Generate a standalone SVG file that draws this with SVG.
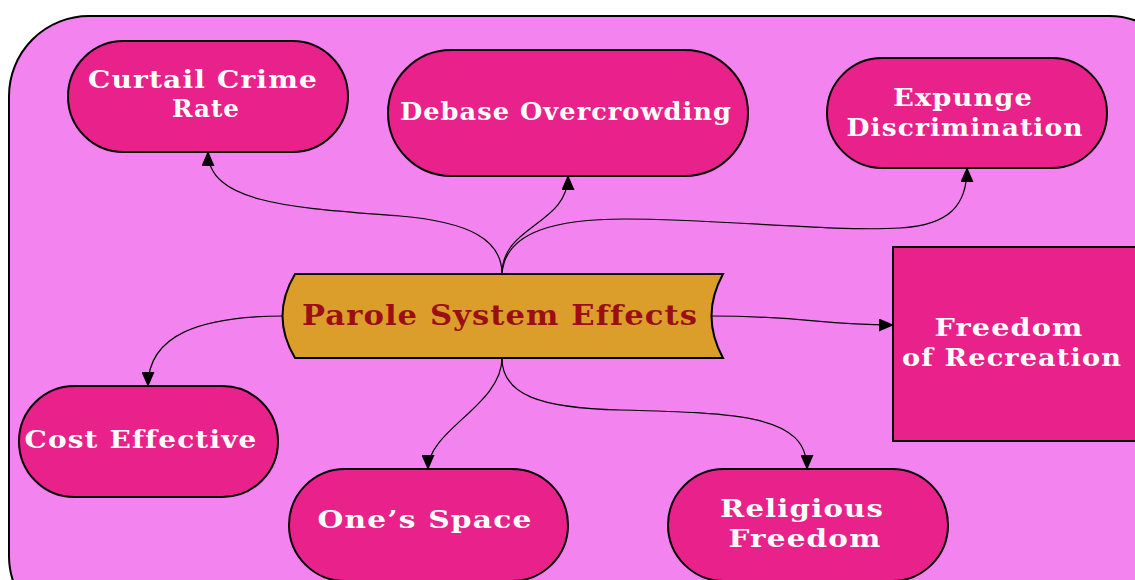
<svg xmlns="http://www.w3.org/2000/svg" width="1135" height="580" viewBox="0 0 1135 580">
<style>
.bg{fill:#f383ef;stroke:#000;stroke-width:2}
.nd{fill:#e9218a;stroke:#000;stroke-width:2}
.ct{fill:#db9e2a;stroke:#000;stroke-width:2}
.t{font-family:"DejaVu Serif",serif;font-weight:bold;font-size:25px;fill:#fff;text-anchor:middle;letter-spacing:1px}
.tc{font-family:"DejaVu Serif",serif;font-weight:bold;font-size:28px;fill:#9c0e16;text-anchor:middle;letter-spacing:1px}
.e{fill:none;stroke:#000;stroke-width:1.2;marker-end:url(#ah)}
</style>
<defs>
<marker id="ah" markerWidth="15" markerHeight="13" refX="14" refY="6.5" orient="auto" markerUnits="userSpaceOnUse">
<path d="M0,0 L15,6.5 L0,13 Z" fill="#000"/>
</marker>
</defs>
<rect width="1135" height="580" fill="#fff"/>
<rect id="container" class="bg" x="9" y="16" width="1180" height="620" rx="80" ry="80"/>
<g id="connectors">
<path class="e" d="M502,274 C502,240 470,222 400,216 C300,208 208,205 208,152"/>
<path class="e" d="M502,274 C502,225 568,225 568,176"/>
<path class="e" d="M502,274 C505,230 560,219 625,219 C720,219 830,232 900,228 C950,225 967,205 967,168"/>
<path class="e" d="M284,316 C200,316 148,335 148,386"/>
<path class="e" d="M502,358 C502,405 428,430 428,469"/>
<path class="e" d="M502,358 C502,395 540,408 620,410 C740,413 807,415 807,469"/>
<path class="e" d="M711,316 C810,316 815,325 893,325"/>
</g>
<g id="center">
<path class="ct" d="M295,274 L723,274 Q700,316 723,358 L295,358 Q270,316 295,274 Z"/>
<text class="tc" x="500" y="325" textLength="396" lengthAdjust="spacingAndGlyphs">Parole System Effects</text>
</g>
<g id="curtail">
<rect class="nd" x="68" y="41" width="280" height="111" rx="55.5"/>
<text class="t" x="203" y="88" textLength="230" lengthAdjust="spacingAndGlyphs">Curtail Crime</text>
<text class="t" x="206" y="117" textLength="68" lengthAdjust="spacingAndGlyphs">Rate</text>
</g>
<g id="debase">
<rect class="nd" x="388" y="50" width="360" height="126" rx="63"/>
<text class="t" x="566" y="120" textLength="332" lengthAdjust="spacingAndGlyphs">Debase Overcrowding</text>
</g>
<g id="expunge">
<rect class="nd" x="827" y="58" width="280" height="110" rx="55"/>
<text class="t" x="963" y="106" textLength="140" lengthAdjust="spacingAndGlyphs">Expunge</text>
<text class="t" x="965" y="136" textLength="237" lengthAdjust="spacingAndGlyphs">Discrimination</text>
</g>
<g id="recreation">
<rect class="nd" x="893" y="247" width="260" height="194"/>
<text class="t" x="1009" y="336" textLength="149" lengthAdjust="spacingAndGlyphs">Freedom</text>
<text class="t" x="1012" y="366" textLength="220" lengthAdjust="spacingAndGlyphs">of Recreation</text>
</g>
<g id="cost">
<rect class="nd" x="19" y="386" width="259" height="111" rx="55.5"/>
<text class="t" x="141" y="448" textLength="233" lengthAdjust="spacingAndGlyphs">Cost Effective</text>
</g>
<g id="space">
<rect class="nd" x="289" y="469" width="279" height="112" rx="56"/>
<text class="t" x="425" y="528" textLength="215" lengthAdjust="spacingAndGlyphs">One’s Space</text>
</g>
<g id="religious">
<rect class="nd" x="668" y="469" width="280" height="112" rx="56"/>
<text class="t" x="802" y="517" textLength="164" lengthAdjust="spacingAndGlyphs">Religious</text>
<text class="t" x="805" y="547" textLength="153" lengthAdjust="spacingAndGlyphs">Freedom</text>
</g>
</svg>
